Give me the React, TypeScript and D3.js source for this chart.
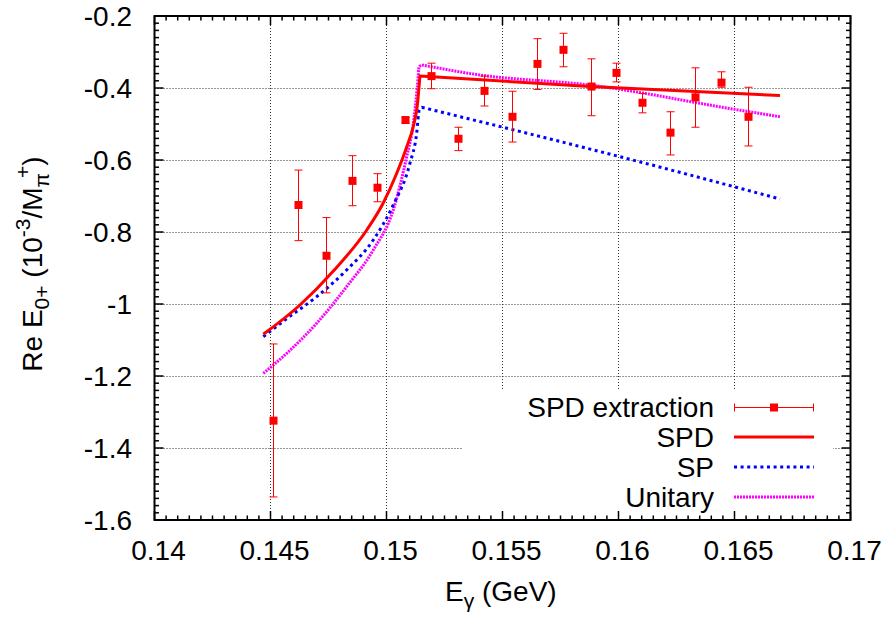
import React from "react";
import * as d3 from "d3";

// ---- data ----
const energies = [0.1451, 0.1462, 0.1474, 0.1485, 0.1496, 0.1508, 0.1519, 0.1531, 0.1542, 0.1554, 0.1565, 0.1576, 0.1588, 0.1599, 0.161, 0.1622, 0.1633, 0.1644, 0.1656];
const extraction = [-1.324, -0.725, -0.866, -0.658, -0.677, -0.489, -0.367, -0.541, -0.408, -0.48, -0.333, -0.294, -0.396, -0.358, -0.441, -0.524, -0.426, -0.385, -0.48];
const errUpper = [-1.111, -0.628, -0.76, -0.588, -0.638, -0.481, -0.331, -0.509, -0.367, -0.409, -0.263, -0.248, -0.319, -0.331, -0.415, -0.466, -0.344, -0.355, -0.398];
const errLower = [-1.536, -0.824, -0.969, -0.727, -0.716, -0.497, -0.402, -0.574, -0.45, -0.55, -0.404, -0.341, -0.477, -0.383, -0.469, -0.586, -0.509, -0.398, -0.561];

// below-threshold branches (ending at the cusp) and above-threshold branches (starting at the cusp)
const spdLowX = [0.14469, 0.14627, 0.14771, 0.14915, 0.14986, 0.15041, 0.15087, 0.15116, 0.15133, 0.15144];
const spdLowY = [-1.0842, -1.0028, -0.9083, -0.7944, -0.7194, -0.6417, -0.5639, -0.5056, -0.4472, -0.3667];
const spdHighX = [0.15144, 0.15877, 0.16696];
const spdHighY = [-0.3667, -0.396, -0.421];

const spLowX = [0.14469, 0.1457, 0.14699, 0.14828, 0.14943, 0.15029, 0.15101, 0.1513, 0.15141, 0.15152];
const spLowY = [-1.0908, -1.0406, -0.9797, -0.9056, -0.8222, -0.725, -0.6092, -0.5261, -0.4611, -0.4536];
const spHighX = [0.15152, 0.16006, 0.16696];
const spHighY = [-0.4536, -0.5908, -0.7083];

const uniLowX = [0.14469, 0.1457, 0.14699, 0.14828, 0.14943, 0.15029, 0.15087, 0.15116, 0.15133, 0.15141, 0.15152];
const uniLowY = [-1.1925, -1.1369, -1.0536, -0.9519, -0.85, -0.7389, -0.5908, -0.4981, -0.3964, -0.3408, -0.3361];
const uniHighX = [0.15152, 0.15403, 0.15877, 0.165, 0.16696];
const uniHighY = [-0.3361, -0.3639, -0.3917, -0.4592, -0.4797];

const xTicks = [0.14, 0.145, 0.15, 0.155, 0.16, 0.165, 0.17];
const xTickLabels = ["0.14", "0.145", "0.15", "0.155", "0.16", "0.165", "0.17"];
const yTicks = [-0.2, -0.4, -0.6, -0.8, -1.0, -1.2, -1.4, -1.6];
const yTickLabels = ["-0.2", "-0.4", "-0.6", "-0.8", "-1", "-1.2", "-1.4", "-1.6"];

const legendLabels = ["SPD extraction", "SPD", "SP", "Unitary"];

// ---- layout ----
const W = 886, H = 620;
const L = 154.5, R = 850.5, T = 16, B = 520;
const FONT = "'Liberation Sans', Arial, Helvetica, sans-serif";
const FS = 28;

export default function App() {
  const x = d3.scaleLinear().domain([0.14, 0.17]).range([L, R]);
  const y = d3.scaleLinear().domain([-0.2, -1.6]).range([T, B]);

  const smooth = d3.line<[number, number]>().x(d => x(d[0])).y(d => y(d[1])).curve(d3.curveMonotoneX);
  const pts = (xs: number[], ys: number[]) => xs.map((v, i) => [v, ys[i]] as [number, number]);
  const curvePath = (lx: number[], ly: number[], hx: number[], hy: number[]) => {
    const a = smooth(pts(lx, ly)) || "";
    const b = (smooth(pts(hx, hy)) || "").replace(/^M[^CLc]*/, "");
    return a + b;
  };

  const xMinor = d3.range(0, 61).map(i => 0.14 + i * 0.0005);
  const yMinor = d3.range(0, 71).map(i => -0.2 - i * 0.02);

  const legendRows = [407, 437, 467, 497];
  const legX1 = 734, legX2 = 814, legTextX = 714;

  return (
    <svg width={W} height={H} style={{ position: "absolute", left: 0, top: 0, background: "#fff" }} fontFamily={FONT}>
      <rect x={0} y={0} width={W} height={H} fill="#fff" />
      {/* grid */}
      <g stroke="#333" strokeWidth={1} strokeDasharray="1,2">
        {xTicks.slice(1, -1).map(t => (
          <line key={"gx" + t} x1={Math.round(x(t)) + 0.5} x2={Math.round(x(t)) + 0.5} y1={T} y2={B} />
        ))}
        {yTicks.slice(1, -1).map(t => (
          <line key={"gy" + t} x1={L} x2={R} y1={Math.round(y(t)) + 0.5} y2={Math.round(y(t)) + 0.5} />
        ))}
      </g>
      {/* legend mask */}
      <rect x={463} y={391} width={370} height={B - 391} fill="#fff" />

      {/* curves */}
      <path d={curvePath(uniLowX, uniLowY, uniHighX, uniHighY)} fill="none" stroke="#ff00ff" strokeWidth={3} strokeDasharray="2,1" strokeLinejoin="miter" />
      <path d={curvePath(spLowX, spLowY, spHighX, spHighY)} fill="none" stroke="#0000ff" strokeWidth={3} strokeDasharray="3,3.6" strokeLinejoin="miter" />
      <path d={curvePath(spdLowX, spdLowY, spdHighX, spdHighY)} fill="none" stroke="#ff0000" strokeWidth={3} strokeLinejoin="miter" />

      {/* error bars */}
      <g stroke="#ff0000" strokeWidth={1}>
        {energies.map((e, i) => {
          const cx = Math.round(x(e)) + 0.5;
          return (
            <g key={"eb" + i}>
              <line x1={cx} x2={cx} y1={y(errUpper[i])} y2={y(errLower[i])} />
              <line x1={cx - 4} x2={cx + 4} y1={y(errUpper[i])} y2={y(errUpper[i])} />
              <line x1={cx - 4} x2={cx + 4} y1={y(errLower[i])} y2={y(errLower[i])} />
            </g>
          );
        })}
      </g>
      <g fill="#ff0000">
        {energies.map((e, i) => (
          <rect key={"pt" + i} x={Math.round(x(e)) + 0.5 - 4} y={y(extraction[i]) - 4} width={8} height={8} />
        ))}
      </g>

      {/* frame */}
      <rect x={L} y={T} width={R - L} height={B - T} fill="none" stroke="#000" strokeWidth={2} />
      {/* ticks */}
      <g stroke="#000" strokeWidth={1.5}>
        {xMinor.map((t, i) => {
          const major = i % 10 === 0;
          const len = major ? 9 : 4.5;
          const px = x(t);
          return (
            <g key={"xt" + i}>
              <line x1={px} x2={px} y1={B} y2={B - len} />
              <line x1={px} x2={px} y1={T} y2={T + len} />
            </g>
          );
        })}
        {yMinor.map((t, i) => {
          const major = i % 10 === 0;
          const len = major ? 9 : 4.5;
          const py = y(t);
          return (
            <g key={"yt" + i}>
              <line x1={L} x2={L + len} y1={py} y2={py} />
              <line x1={R} x2={R - len} y1={py} y2={py} />
            </g>
          );
        })}
      </g>

      {/* tick labels */}
      <g fontSize={FS} fill="#000">
        {xTicks.map((t, i) => (
          <text key={"xl" + t} x={x(t) + 4} y={560} textAnchor="middle">{xTickLabels[i]}</text>
        ))}
        {yTicks.map((t, i) => (
          <text key={"yl" + t} x={132} y={y(t) + 10} textAnchor="end">{yTickLabels[i]}</text>
        ))}
      </g>

      {/* axis labels */}
      <text x={445} y={601} fontSize={FS} fill="#000">
        E<tspan fontSize={21} dy={7}>γ</tspan><tspan dy={-7}> (GeV)</tspan>
      </text>
      <text transform={`translate(42,${(T + B) / 2 - 4}) rotate(-90)`} textAnchor="middle" fontSize={FS} fill="#000">
        Re E<tspan fontSize={21} dy={7}>0+</tspan>
        <tspan dy={-7}> (10</tspan>
        <tspan fontSize={21} dy={-12}>-3</tspan>
        <tspan dy={12}>/M</tspan>
        <tspan fontSize={21} dy={7}>π</tspan>
        <tspan fontSize={21} dy={-19} dx={-5}>+</tspan>
        <tspan dy={12}>)</tspan>
      </text>

      {/* legend */}
      <g fontSize={FS} fill="#000">
        {legendLabels.map((lab, i) => (
          <text key={"lg" + i} x={legTextX} y={legendRows[i] + 10} textAnchor="end">{lab}</text>
        ))}
      </g>
      <g stroke="#ff0000" strokeWidth={1}>
        <line x1={legX1} x2={legX2} y1={legendRows[0] + 0.5} y2={legendRows[0] + 0.5} />
        <line x1={legX1 + 0.5} x2={legX1 + 0.5} y1={legendRows[0] - 3.5} y2={legendRows[0] + 4.5} />
        <line x1={legX2 - 0.5} x2={legX2 - 0.5} y1={legendRows[0] - 3.5} y2={legendRows[0] + 4.5} />
      </g>
      <rect x={(legX1 + legX2) / 2 - 4} y={legendRows[0] - 3.5} width={8} height={8} fill="#ff0000" />
      <line x1={legX1} x2={legX2} y1={legendRows[1]} y2={legendRows[1]} stroke="#ff0000" strokeWidth={3} />
      <line x1={legX1} x2={legX2} y1={legendRows[2]} y2={legendRows[2]} stroke="#0000ff" strokeWidth={3} strokeDasharray="3,3.6" />
      <line x1={legX1} x2={legX2} y1={legendRows[3]} y2={legendRows[3]} stroke="#ff00ff" strokeWidth={3} strokeDasharray="2,1" />
    </svg>
  );
}
